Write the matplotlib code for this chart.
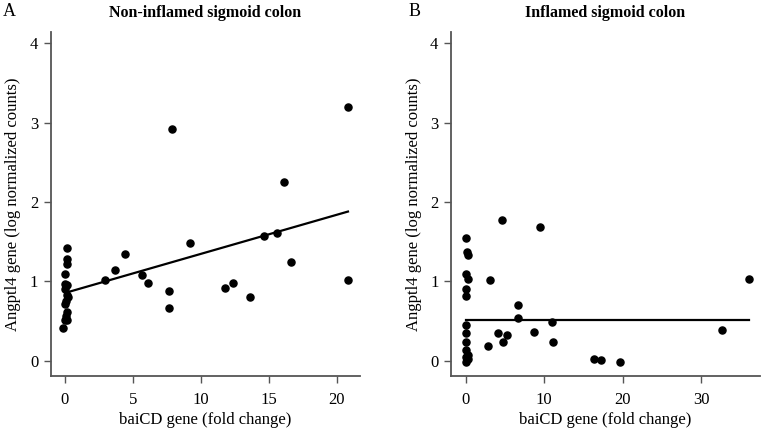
import matplotlib.pyplot as plt

# ================================
# DATA
# ================================

# Panel A: non-inflamed sigmoid colon
noninfl_baicd = [0.12, 0.12, 0.15, 0.0, 0.0, 0.12, 0.0, 0.12, 0.25, 0.07, 0.0,
                 0.12, 0.07, 0.0, 0.15, -0.12,
                 2.95, 3.71, 4.42, 5.65, 6.14, 7.66, 7.66, 7.88,
                 9.2, 11.8, 12.4, 13.65, 14.65, 15.59, 16.13, 16.66, 20.84, 20.84]
noninfl_angptl4 = [1.42, 1.28, 1.22, 1.10, 0.97, 0.96, 0.90, 0.83, 0.81, 0.75, 0.72,
                   0.61, 0.56, 0.52, 0.52, 0.42,
                   1.02, 1.14, 1.34, 1.08, 0.985, 0.88, 0.67, 2.92,
                   1.49, 0.92, 0.98, 0.80, 1.57, 1.61, 2.25, 1.24, 3.19, 1.02]
noninfl_fit_x = [0.1, 20.84]
noninfl_fit_y = [0.86, 1.88]

# Panel B: inflamed sigmoid colon
infl_baicd = [4.59, 9.48, 0.0, 0.12, 0.34, 0.0, 0.34, 3.1, 0.0, 0.0, 6.71, 6.71,
              10.97, 0.0, 0.0, 4.16, 5.31, 8.75, 0.0, 4.72, 2.89, 11.1, 0.0, 0.34,
              0.0, 0.34, 0.0, 36.05, 32.7, 16.4, 17.2, 19.7]
infl_angptl4 = [1.77, 1.69, 1.55, 1.37, 1.33, 1.10, 1.03, 1.02, 0.90, 0.82, 0.70, 0.54,
                0.49, 0.45, 0.35, 0.35, 0.33, 0.37, 0.24, 0.24, 0.19, 0.24, 0.14, 0.08,
                0.05, 0.02, -0.01, 1.03, 0.39, 0.025, 0.017, -0.01]
infl_fit_x = [0.0, 36.05]
infl_fit_y = [0.516, 0.516]

YTICKS = [0, 1, 2, 3, 4]
XTICKS_A = [0, 5, 10, 15, 20]
XTICKS_B = [0, 10, 20, 30]

plt.rcParams["font.family"] = ["Liberation Serif", "DejaVu Serif"]
SPINE = "#555555"


def style_axis(ax, xlim, xticks, title, letter, letter_x):
    ax.set_xlim(*xlim)
    ax.set_ylim(-0.19, 4.14)
    ax.set_xticks(xticks)
    ax.set_yticks(YTICKS)
    for side in ["top", "right"]:
        ax.spines[side].set_visible(False)
    for side in ["left", "bottom"]:
        ax.spines[side].set_color(SPINE)
        ax.spines[side].set_linewidth(1.3)
    ax.tick_params(direction="out", length=5, width=1, color=SPINE,
                   labelsize=12, pad=4)
    ax.tick_params(axis="x", pad=6.5)
    ax.set_xlabel("baiCD gene (fold change)", fontsize=12, labelpad=3)
    ax.set_ylabel("Angptl4 gene (log normalized counts)", fontsize=12, labelpad=6)
    ax.set_title(title, fontsize=11.5, fontweight="bold", pad=11)
    ax.text(letter_x, 1.035, letter, transform=ax.transAxes, fontsize=13, va="bottom")


fig = plt.figure(figsize=(7.61, 4.28), dpi=100)
ax_a = fig.add_axes([0.0666, 0.1215, 0.406, 0.8037])
ax_b = fig.add_axes([0.5926, 0.1215, 0.406, 0.8037])

ax_a.scatter(noninfl_baicd, noninfl_angptl4, s=26, color="black", zorder=3)
ax_a.plot(noninfl_fit_x, noninfl_fit_y, color="black", linewidth=1.6)
style_axis(ax_a, (-1.05, 21.7), XTICKS_A, "Non-inflamed sigmoid colon", "A", -0.155)

ax_b.scatter(infl_baicd, infl_angptl4, s=26, color="black", zorder=3)
ax_b.plot(infl_fit_x, infl_fit_y, color="black", linewidth=1.6)
style_axis(ax_b, (-1.87, 37.5), XTICKS_B, "Inflamed sigmoid colon", "B", -0.139)

fig.savefig("out.png", dpi=100)
